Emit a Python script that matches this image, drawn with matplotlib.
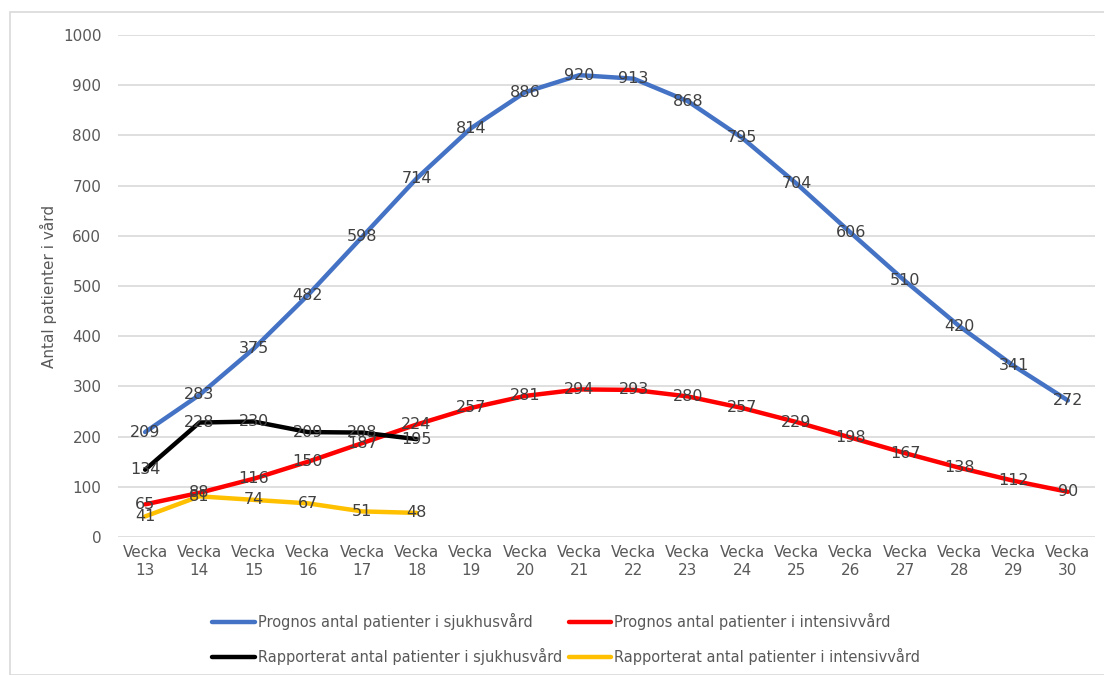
import matplotlib
matplotlib.use("Agg")
import matplotlib.pyplot as plt
from matplotlib.patches import Rectangle

weeks = list(range(13, 31))
tick_labels = [f"Vecka\n{w}" for w in weeks]

prognos_sjukhus = [209, 283, 375, 482, 598, 714, 814, 886, 920, 913, 868, 795, 704, 606, 510, 420, 341, 272]
prognos_iva = [65, 88, 116, 150, 187, 224, 257, 281, 294, 293, 280, 257, 229, 198, 167, 138, 112, 90]
rapp_sjukhus = [134, 228, 230, 209, 208, 195]
rapp_iva = [41, 81, 74, 67, 51, 48]

names = ["Prognos antal patienter i sjukhusvård",
         "Prognos antal patienter i intensivvård",
         "Rapporterat antal patienter i sjukhusvård",
         "Rapporterat antal patienter i intensivvård"]
colors = ["#4472C4", "#FF0000", "#000000", "#FFC000"]
series = [prognos_sjukhus, prognos_iva, rapp_sjukhus, rapp_iva]

plt.rcParams['font.family'] = ['DejaVu Sans']

fig = plt.figure(figsize=(11.04, 6.75), dpi=100)
fig.patches.append(Rectangle((10/1104, 0), 1.2, 1 - 12/675, transform=fig.transFigure,
                             fill=False, edgecolor="#D9D9D9", linewidth=1.2))
ax = fig.add_axes([118/1104, 1 - 537/675, (1095 - 118)/1104, (537 - 35)/675])

x_all = list(range(len(weeks)))
lines = []
for name, col, vals in zip(names, colors, series):
    xs = x_all[:len(vals)]
    ln, = ax.plot(xs, vals, color=col, linewidth=3.2, solid_capstyle="round",
                  solid_joinstyle="round", label=name)
    lines.append(ln)

for name, col, vals in zip(names, colors, series):
    for xi, v in zip(x_all, vals):
        ax.text(xi, v, str(v), ha="center", va="center", fontsize=11.5, color="#404040", zorder=5)

ax.set_xlim(-0.5, len(weeks) - 0.5)
ax.set_ylim(0, 1000)
ax.set_yticks(range(0, 1001, 100))
ax.set_xticks(x_all)
ax.set_xticklabels(tick_labels, fontsize=11, color="#595959", linespacing=1.2)
ax.tick_params(axis="y", labelsize=11, labelcolor="#595959", length=0, pad=12)
ax.tick_params(axis="x", length=0, pad=6)
ax.grid(axis="y", color="#D9D9D9", linewidth=1.2)
ax.set_axisbelow(True)
for s in ax.spines.values():
    s.set_visible(False)
ax.set_ylabel("Antal patienter i vård", fontsize=11, color="#595959", labelpad=4)

order = [0, 2, 1, 3]
leg = fig.legend(handles=[lines[i] for i in order], labels=[names[i] for i in order],
                 ncol=2, loc="center",
                 bbox_to_anchor=(0.513, 1 - 639/675), frameon=False, fontsize=10.5,
                 handlelength=2.9, handletextpad=0.2, columnspacing=0.5, labelspacing=1.2,
                 labelcolor="#595959")

fig.savefig("out.png", dpi=100)
